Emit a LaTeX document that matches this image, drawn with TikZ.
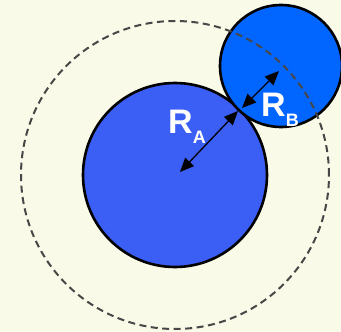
\documentclass[tikz,border=0pt]{standalone}
\usepackage{fontspec}
\setmainfont{Liberation Sans}
\usetikzlibrary{arrows.meta}
\definecolor{bg}{RGB}{250,250,232}
\definecolor{blueA}{RGB}{59,94,245}
\definecolor{blueB}{RGB}{0,102,255}
\tikzset{
  ball/.style={circle,draw=black,line width=2.6pt,inner sep=0pt},
  orbit/.style={circle,draw=black!72,line width=2pt,dash pattern=on 7pt off 4.5pt,inner sep=0pt},
  radius arrow/.style={line width=1.3pt,{Triangle[length=14pt,width=12pt]}-{Triangle[length=14pt,width=12pt]}},
  lab/.style={text=white,font=\fontsize{34}{34}\selectfont\bfseries,inner sep=0pt,anchor=base west}
}
\begin{document}
\begin{tikzpicture}[x=1pt,y=-1pt]
\fill[bg] (0,0) rectangle (341,332);
\useasboundingbox (0,0) rectangle (341,332);
\node[ball,fill=blueA,minimum size=184pt] (A) at (175,175) {};
\node[ball,fill=blueB,minimum size=122pt] (B) at (281,66) {};
\node[orbit,minimum size=308pt] (O) at (175,175) {};
\coordinate (a1) at (180,172);
\coordinate (a2) at (238,111);
\coordinate (b1) at (242,108);
\coordinate (b2) at (279,71);
\draw[radius arrow] (a1) -- (a2);
\draw[radius arrow] (b1) -- (b2);
\node[lab] (RA) at (168,133) {R\raisebox{-10pt}{\fontsize{18}{18}\selectfont A}};
\node[lab] (RB) at (261,117) {R\raisebox{-10pt}{\fontsize{18}{18}\selectfont B}};
\end{tikzpicture}
\end{document}
